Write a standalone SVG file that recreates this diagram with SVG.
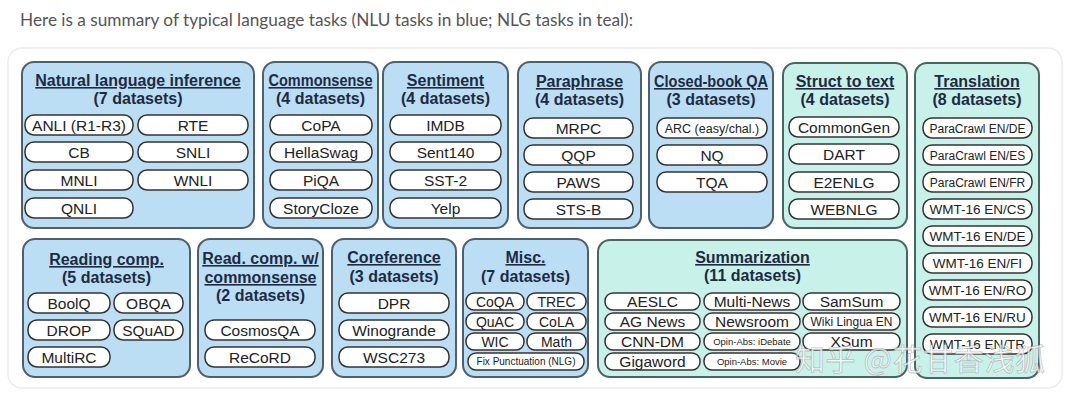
<svg xmlns="http://www.w3.org/2000/svg" width="1080" height="401" viewBox="0 0 1080 401">
<style>
.nlu{fill:#bbdef5;stroke:#4f5f6e;stroke-width:2}
.nlg{fill:#c8f1ea;stroke:#4a6660;stroke-width:2}
.pill{fill:#fff;stroke:#333;stroke-width:1.5}
.t{font-family:"Liberation Sans",Arial,sans-serif;font-weight:bold;font-size:16px;fill:#1d2b42;text-anchor:middle}
.u{text-decoration:underline}
.p{font-family:"Liberation Sans",Arial,sans-serif;font-size:15.5px;fill:#222;text-anchor:middle}
.s{font-size:12.5px}
.xs{font-size:9.5px}
.x10{font-size:10px}
.m{font-size:14px}
.w{font-size:13.5px}
.wl{font-size:12px}
</style>
<rect width="1080" height="401" fill="#fff"/>
<text x="20" y="26" font-family="Lato,'Open Sans',sans-serif" font-size="17" fill="#555" textLength="613" lengthAdjust="spacingAndGlyphs">Here is a summary of typical language tasks (NLU tasks in blue; NLG tasks in teal):</text>
<rect x="8" y="48" width="1054" height="340" rx="14" fill="#fff" stroke="#ececec" stroke-width="1.5"/>

<g id="nli">
<rect class="nlu" x="22" y="62" width="232" height="166" rx="12"/>
<text class="t u" x="138" y="86">Natural language inference</text>
<text class="t" x="138" y="104">(7 datasets)</text>
<rect class="pill" x="25" y="115" width="108" height="20" rx="9"/><text class="p" x="79" y="130.5">ANLI (R1-R3)</text>
<rect class="pill" x="138" y="115" width="110" height="20" rx="9"/><text class="p" x="193" y="130.5">RTE</text>
<rect class="pill" x="25" y="142" width="108" height="20" rx="9"/><text class="p" x="79" y="157.5">CB</text>
<rect class="pill" x="138" y="142" width="110" height="20" rx="9"/><text class="p" x="193" y="157.5">SNLI</text>
<rect class="pill" x="25" y="170" width="108" height="20" rx="9"/><text class="p" x="79" y="185.5">MNLI</text>
<rect class="pill" x="138" y="170" width="110" height="20" rx="9"/><text class="p" x="193" y="185.5">WNLI</text>
<rect class="pill" x="25" y="198" width="108" height="20" rx="9"/><text class="p" x="79" y="213.5">QNLI</text>
</g>

<g id="commonsense">
<rect class="nlu" x="263" y="62" width="115" height="166" rx="12"/>
<text class="t u" x="320.5" y="86" textLength="104" lengthAdjust="spacingAndGlyphs">Commonsense</text>
<text class="t" x="320.5" y="104">(4 datasets)</text>
<rect class="pill" x="270" y="115" width="102" height="20" rx="9"/><text class="p" x="321" y="130.5">CoPA</text>
<rect class="pill" x="270" y="142" width="102" height="20" rx="9"/><text class="p" x="321" y="157.5">HellaSwag</text>
<rect class="pill" x="270" y="170" width="102" height="20" rx="9"/><text class="p" x="321" y="185.5">PiQA</text>
<rect class="pill" x="270" y="198" width="102" height="20" rx="9"/><text class="p" x="321" y="213.5">StoryCloze</text>
</g>

<g id="sentiment">
<rect class="nlu" x="383" y="62" width="125" height="166" rx="12"/>
<text class="t u" x="445.5" y="86">Sentiment</text>
<text class="t" x="445.5" y="104">(4 datasets)</text>
<rect class="pill" x="390" y="115" width="111" height="20" rx="9"/><text class="p" x="445.5" y="130.5">IMDB</text>
<rect class="pill" x="390" y="142" width="111" height="20" rx="9"/><text class="p" x="445.5" y="157.5">Sent140</text>
<rect class="pill" x="390" y="170" width="111" height="20" rx="9"/><text class="p" x="445.5" y="185.5">SST-2</text>
<rect class="pill" x="390" y="198" width="111" height="20" rx="9"/><text class="p" x="445.5" y="213.5">Yelp</text>
</g>

<g id="paraphrase">
<rect class="nlu" x="518" y="62" width="123" height="166" rx="12"/>
<text class="t u" x="579.5" y="87">Paraphrase</text>
<text class="t" x="579.5" y="105">(4 datasets)</text>
<rect class="pill" x="524" y="118" width="109" height="20" rx="9"/><text class="p" x="578.5" y="133.5">MRPC</text>
<rect class="pill" x="524" y="145" width="109" height="20" rx="9"/><text class="p" x="578.5" y="160.5">QQP</text>
<rect class="pill" x="524" y="172" width="109" height="20" rx="9"/><text class="p" x="578.5" y="187.5">PAWS</text>
<rect class="pill" x="524" y="199" width="109" height="20" rx="9"/><text class="p" x="578.5" y="214.5">STS-B</text>
</g>

<g id="closedbook">
<rect class="nlu" x="649" y="62" width="124" height="166" rx="12"/>
<text class="t u" x="711" y="87" textLength="114" lengthAdjust="spacingAndGlyphs">Closed-book QA</text>
<text class="t" x="711" y="105">(3 datasets)</text>
<rect class="pill" x="657" y="118" width="110" height="20" rx="9"/><text class="p s" x="712" y="132.5">ARC (easy/chal.)</text>
<rect class="pill" x="657" y="145" width="110" height="20" rx="9"/><text class="p" x="712" y="160.5">NQ</text>
<rect class="pill" x="657" y="172" width="110" height="20" rx="9"/><text class="p" x="712" y="187.5">TQA</text>
</g>

<g id="struct2text">
<rect class="nlg" x="783" y="63" width="124" height="165" rx="12"/>
<text class="t u" x="845" y="87">Struct to text</text>
<text class="t" x="845" y="105">(4 datasets)</text>
<rect class="pill" x="789" y="117" width="110" height="20" rx="9"/><text class="p" x="844" y="132.5">CommonGen</text>
<rect class="pill" x="789" y="144" width="110" height="20" rx="9"/><text class="p" x="844" y="159.5">DART</text>
<rect class="pill" x="789" y="172" width="110" height="20" rx="9"/><text class="p" x="844" y="187.5">E2ENLG</text>
<rect class="pill" x="789" y="199" width="110" height="20" rx="9"/><text class="p" x="844" y="214.5">WEBNLG</text>
</g>

<g id="translation">
<rect class="nlg" x="915" y="63" width="124" height="315" rx="12"/>
<text class="t u" x="977" y="87">Translation</text>
<text class="t" x="977" y="105">(8 datasets)</text>
<rect class="pill" x="923" y="118" width="109" height="20" rx="9"/><text class="p wl" x="977.5" y="132.5">ParaCrawl EN/DE</text>
<rect class="pill" x="923" y="145" width="109" height="20" rx="9"/><text class="p wl" x="977.5" y="159.5">ParaCrawl EN/ES</text>
<rect class="pill" x="923" y="172" width="109" height="20" rx="9"/><text class="p wl" x="977.5" y="186.5">ParaCrawl EN/FR</text>
<rect class="pill" x="923" y="199" width="109" height="20" rx="9"/><text class="p w" x="977.5" y="214">WMT-16 EN/CS</text>
<rect class="pill" x="923" y="226" width="109" height="20" rx="9"/><text class="p w" x="977.5" y="241">WMT-16 EN/DE</text>
<rect class="pill" x="923" y="253" width="109" height="20" rx="9"/><text class="p w" x="977.5" y="268">WMT-16 EN/FI</text>
<rect class="pill" x="923" y="280" width="109" height="20" rx="9"/><text class="p w" x="977.5" y="295">WMT-16 EN/RO</text>
<rect class="pill" x="923" y="307" width="109" height="20" rx="9"/><text class="p w" x="977.5" y="322">WMT-16 EN/RU</text>
<rect class="pill" x="923" y="334" width="109" height="20" rx="9"/><text class="p w" x="977.5" y="349">WMT-16 EN/TR</text>
</g>

<g id="readingcomp">
<rect class="nlu" x="23" y="239" width="167" height="138" rx="12"/>
<text class="t u" x="106.5" y="265">Reading comp.</text>
<text class="t" x="106.5" y="283">(5 datasets)</text>
<rect class="pill" x="28" y="293" width="82" height="20" rx="9"/><text class="p" x="69" y="308.5">BoolQ</text>
<rect class="pill" x="114" y="293" width="69" height="20" rx="9"/><text class="p" x="148.5" y="308.5">OBQA</text>
<rect class="pill" x="28" y="320" width="82" height="20" rx="9"/><text class="p" x="69" y="335.5">DROP</text>
<rect class="pill" x="114" y="320" width="69" height="20" rx="9"/><text class="p" x="148.5" y="335.5">SQuAD</text>
<rect class="pill" x="28" y="347" width="82" height="20" rx="9"/><text class="p" x="69" y="362.5">MultiRC</text>
</g>

<g id="readcommonsense">
<rect class="nlu" x="198" y="239" width="125" height="138" rx="12"/>
<text class="t u" x="260.5" y="264">Read. comp. w/</text>
<text class="t u" x="260.5" y="283">commonsense</text>
<text class="t" x="260.5" y="301">(2 datasets)</text>
<rect class="pill" x="205" y="320" width="110" height="20" rx="9"/><text class="p" x="260" y="335.5">CosmosQA</text>
<rect class="pill" x="205" y="347" width="110" height="20" rx="9"/><text class="p" x="260" y="362.5">ReCoRD</text>
</g>

<g id="coreference">
<rect class="nlu" x="332" y="239" width="124" height="138" rx="12"/>
<text class="t u" x="394" y="263">Coreference</text>
<text class="t" x="394" y="282">(3 datasets)</text>
<rect class="pill" x="339" y="293" width="110" height="20" rx="9"/><text class="p" x="394" y="308.5">DPR</text>
<rect class="pill" x="339" y="320" width="110" height="20" rx="9"/><text class="p" x="394" y="335.5">Winogrande</text>
<rect class="pill" x="339" y="347" width="110" height="20" rx="9"/><text class="p" x="394" y="362.5">WSC273</text>
</g>

<g id="misc">
<rect class="nlu" x="463" y="239" width="125" height="138" rx="12"/>
<text class="t u" x="525.5" y="263">Misc.</text>
<text class="t" x="525.5" y="282">(7 datasets)</text>
<rect class="pill" x="466" y="293" width="58" height="17" rx="8"/><text class="p m" x="495" y="306.5">CoQA</text>
<rect class="pill" x="527" y="293" width="59" height="17" rx="8"/><text class="p m" x="556.5" y="306.5">TREC</text>
<rect class="pill" x="466" y="313" width="58" height="17" rx="8"/><text class="p m" x="495" y="326.5">QuAC</text>
<rect class="pill" x="527" y="313" width="59" height="17" rx="8"/><text class="p m" x="556.5" y="326.5">CoLA</text>
<rect class="pill" x="466" y="333" width="58" height="17" rx="8"/><text class="p m" x="495" y="346.5">WIC</text>
<rect class="pill" x="527" y="333" width="59" height="17" rx="8"/><text class="p m" x="556.5" y="346.5">Math</text>
<rect class="pill" x="468" y="353" width="116" height="17" rx="8"/><text class="p x10" x="526" y="365">Fix Punctuation (NLG)</text>
</g>

<g id="summarization">
<rect class="nlg" x="598" y="240" width="309" height="137" rx="12"/>
<text class="t u" x="752.5" y="263">Summarization</text>
<text class="t" x="752.5" y="281">(11 datasets)</text>
<rect class="pill" x="605" y="293" width="95" height="17" rx="8"/><text class="p" x="652.5" y="307">AESLC</text>
<rect class="pill" x="704" y="293" width="96" height="17" rx="8"/><text class="p" x="752" y="307">Multi-News</text>
<rect class="pill" x="803" y="293" width="97" height="17" rx="8"/><text class="p" x="851.5" y="307">SamSum</text>
<rect class="pill" x="605" y="313" width="95" height="17" rx="8"/><text class="p" x="652.5" y="327">AG News</text>
<rect class="pill" x="704" y="313" width="96" height="17" rx="8"/><text class="p" x="752" y="327">Newsroom</text>
<rect class="pill" x="803" y="313" width="97" height="17" rx="8"/><text class="p wl" x="851.5" y="326">Wiki Lingua EN</text>
<rect class="pill" x="605" y="333" width="95" height="17" rx="8"/><text class="p" x="652.5" y="347">CNN-DM</text>
<rect class="pill" x="704" y="333" width="96" height="17" rx="8"/><text class="p xs" x="752" y="345">Opin-Abs: iDebate</text>
<rect class="pill" x="803" y="333" width="97" height="17" rx="8"/><text class="p" x="851.5" y="347">XSum</text>
<rect class="pill" x="605" y="353" width="95" height="17" rx="8"/><text class="p" x="652.5" y="367">Gigaword</text>
<rect class="pill" x="704" y="353" width="96" height="17" rx="8"/><text class="p xs" x="752" y="365">Opin-Abs: Movie</text>
</g>

<g id="connectors"></g>

<text x="795" y="370" font-family="'Noto Sans CJK SC',sans-serif" font-size="30" fill="#fff" fill-opacity="0.75" stroke="#999" stroke-opacity="0.6" stroke-width="0.8" textLength="250">知乎 @花甘香浅狐</text>
</svg>
